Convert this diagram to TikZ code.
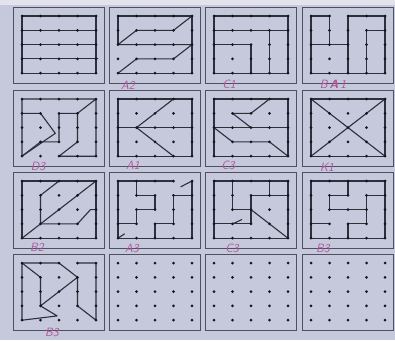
\documentclass[tikz,border=0pt]{standalone}
\begin{document}
\begin{tikzpicture}[x=1pt,y=-1pt,
  boxln/.style={draw=boxc,line width=1pt},
  pen/.style={draw=penc,line width=1.1pt,line join=round,line cap=round},
  lbl/.style={text=lblc,font=\sffamily\slshape\fontsize{12}{12}\selectfont,inner sep=0pt}]
\definecolor{paper}{HTML}{C6C8DB}
\definecolor{topc}{HTML}{E2E3EC}
\definecolor{boxc}{HTML}{4E505F}
\definecolor{penc}{HTML}{2E2F3A}
\definecolor{dotc}{HTML}{15151C}
\definecolor{lblc}{HTML}{B0559C}
\newcommand\panel[3]{%
  \draw[boxln] (#1,#2) rectangle ++(91,76);
  \begin{scope}[shift={(#1+9,#2+9)},x=18.5pt,y=-14.3pt]
    #3
    \foreach \i in {0,...,4}{\foreach \j in {0,...,4}{\fill[dotc] (\i,\j) circle[radius=1.5pt];}}
  \end{scope}}
\useasboundingbox (0,0) rectangle (395,340);
\fill[paper] (0,0) rectangle (395,340);
\fill[topc] (0,0) rectangle (395,5);
% row 1
\panel{13}{7}{%
  \draw[pen] (0,0) rectangle (4,4);
  \draw[pen] (0,1) -- (4,1);
  \draw[pen] (0,2) -- (4,2);
  \draw[pen] (0,3) -- (4.1,3);}
\panel{109}{7}{%
  \draw[pen] (0,2) -- (0,0) -- (4,0) -- (4,4) -- (0,4);
  \draw[pen] (4,0) -- (3,1) -- (1,1) -- (0,2) -- (4,2) -- (3,3) -- (1,3) -- (0,4);}
\panel{205}{7}{%
  \draw[pen] (0,0) rectangle (4,4);
  \draw[pen] (0,1) -- (4,1);
  \draw[pen] (3,1) -- (3,4);
  \draw[pen] (0,2) -- (2,2) -- (2,4);}
\panel{302}{7}{%
  \draw[pen] (1,2) -- (1,0) -- (0,0) -- (0,4) -- (4,4) -- (4,1) -- (3,1) -- (3,4);
  \draw[pen] (0,2) -- (2,2);
  \draw[pen] (2,4) -- (2,0) -- (4,0) -- (4,1);}
% row 2
\panel{13}{90}{%
  \draw[pen] (0,4) -- (0,0) -- (4,0) -- (4,4) -- (2,4) -- (3,3) -- (3,1) -- (4,0);
  \draw[pen] (0,1) -- (1,1) -- (1.8,2.4) -- (0,4);
  \draw[pen] (3,1) -- (2,1) -- (2,3) -- (1,3) -- (0,4);}
\panel{109}{90}{%
  \draw[pen] (0,0) rectangle (4,4);
  \draw[pen] (3,0) -- (1,2);
  \draw[pen] (0,2) -- (4,2);
  \draw[pen] (1,2) -- (3,4);}
\panel{205}{90}{%
  \draw[pen] (0,0) rectangle (4,4);
  \draw[pen] (3,0) -- (2,1) -- (1,1) -- (2,2);
  \draw[pen] (0,2) -- (4,2);
  \draw[pen] (0,2) -- (1,3) -- (3,3) -- (4,4);}
\panel{302}{90}{%
  \draw[pen] (0,0) rectangle (4,4);
  \draw[pen] (0,0) -- (4,4);
  \draw[pen] (4,0) -- (0,4);}
% row 3
\panel{13}{172}{%
  \draw[pen] (0,0) rectangle (4,4);
  \draw[pen] (4,0) -- (0,4);
  \draw[pen] (2,0) -- (1,1) -- (1,3) -- (3,3) -- (3.7,2) -- (4,2);}
\panel{109}{172}{%
  \draw[pen] (3,0) -- (0,0) -- (0,4) -- (4,4) -- (4,0);
  \draw[pen] (1,0) -- (1,1) -- (2,1) -- (2,2) -- (1,2) -- (1,3) -- (0,3);
  \draw[pen] (4,1) -- (3,1) -- (3,3) -- (2,3) -- (2,4);
  \draw[pen] (4,0) -- (3.4,0.4);
  \draw[pen] (0,4) -- (0.35,3.7);}
\panel{205}{172}{%
  \draw[pen] (0,0) rectangle (4,4);
  \draw[pen] (1,0) -- (1,2) -- (2,2) -- (2,1) -- (4,1);
  \draw[pen] (3,0) -- (3,1);
  \draw[pen] (2,2) -- (4,4);
  \draw[pen] (0,3) -- (2,3) -- (2,2);
  \draw[pen] (1,3) -- (1.5,2.7);}
\panel{302}{172}{%
  \draw[pen] (0,0) rectangle (4,4);
  \draw[pen] (2,0) -- (2,1) -- (1,1) -- (1,2) -- (3,2);
  \draw[pen] (4,1) -- (3,1) -- (3,3) -- (2,3) -- (2,4);
  \draw[pen] (0,3) -- (1,3);}
% row 4
\panel{13}{254}{%
  \draw[pen] (0,4) -- (0,0) -- (1,1);
  \draw[pen] (0,0) -- (2,0) -- (3,1);
  \draw[pen] (3,0) -- (4,0) -- (4,4) -- (3,3) -- (3,1) -- (1,3) -- (1,1);
  \draw[pen] (1,3) -- (1.9,3.7) -- (0,4);}
\panel{109}{254}{}
\panel{205}{254}{}
\panel{302}{254}{}
% labels
\node[lbl] (lA2) at (128,85) {A2};
\node[lbl] (lC1) at (229,84) {C1};
\node[lbl] (lB1) at (333,84) {B\,\textbf{A}\,1};
\node[lbl] (lD3) at (38,166) {D3};
\node[lbl] (lA1) at (133,165) {A1};
\node[lbl] (lC3a) at (228,165) {C3};
\node[lbl] (lK1) at (327,167) {K1};
\node[lbl] (lB2) at (37,247) {B2};
\node[lbl] (lA3) at (132,248) {A3};
\node[lbl] (lC3b) at (232,248) {C3};
\node[lbl] (lB3a) at (323,248) {B3};
\node[lbl] (lB3b) at (52,332) {B3};
\end{tikzpicture}
\end{document}
